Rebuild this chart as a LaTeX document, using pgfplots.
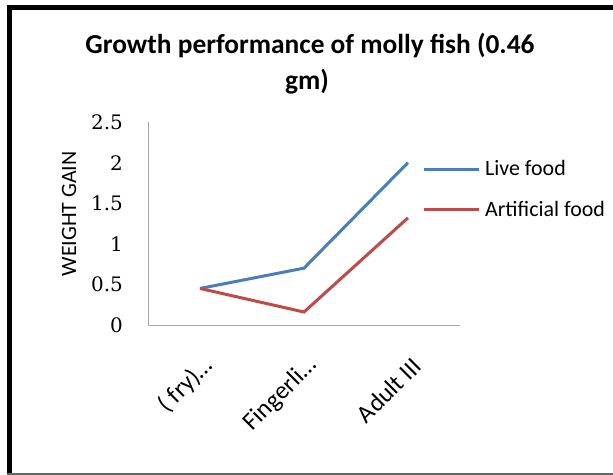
\documentclass[border=0pt]{standalone}
\usepackage{pgfplots}
\pgfplotsset{compat=1.18}
\usepackage{fontspec}
\setmainfont{Carlito}
\newfontfamily\tickfont{DejaVu Serif}
\definecolor{liveblue}{HTML}{4A7EBB}
\definecolor{artred}{HTML}{BE4B48}
\begin{document}
\begin{tikzpicture}
\path[use as bounding box] (0,0) rectangle (613bp,-475bp);
\fill[white] (0,0) rectangle (613bp,-475bp);
\draw[line width=5bp] (9.5bp,-475bp) -- (9.5bp,-7.5bp) -- (613bp,-7.5bp);
\draw[gray!80!black, line width=2bp] (7bp,-474bp) -- (613bp,-474bp);
\node[font=\bfseries\fontsize{27.5}{33}\selectfont, anchor=base] at (310bp,-53bp) {Growth performance of molly fish (0.46};
\node[font=\bfseries\fontsize{27.5}{33}\selectfont, anchor=base] at (307bp,-89bp) {gm)};
\begin{axis}[
  at={(148bp,-325bp)}, anchor=south west,
  scale only axis, width=312bp, height=203bp,
  xmin=-0.5, xmax=2.5, ymin=0, ymax=2.5,
  axis x line*=bottom, axis y line*=left,
  axis line style={draw=gray!70, line width=1bp, -},
  xtick={0,1,2}, xticklabels={( fry)…, Fingerli…, Adult III},
  ytick={0,0.5,1,1.5,2,2.5},
  major tick length=0pt,
  /pgf/number format/assume math mode=true,
  yticklabel style={font=\tickfont\fontsize{20}{20}\selectfont, inner sep=0pt, anchor=east, xshift=-25bp},
  xticklabel style={font=\fontsize{25}{25}\selectfont, xshift=9bp, yshift=-37bp, rotate=45, anchor=east, inner sep=0pt},
  ylabel={WEIGHT GAIN},
  ylabel style={font=\fontsize{22}{22}\selectfont, at={(axis description cs:-0.253,0.547)}, anchor=center},
  legend style={at={(axis description cs:0.878,0.81)}, anchor=north west, draw=none, fill=none, inner sep=0pt, font=\fontsize{22}{22}\selectfont, row sep=24bp, column sep=5bp, nodes={inner sep=0pt}},
  legend cell align=left,
  legend image code/.code={\draw[#1] (0bp,0bp) -- (55bp,0bp);},
  clip=false,
]
\addplot[liveblue, line width=3bp] coordinates {(0,0.45) (1,0.70) (2,2.0)};
\addlegendentry{Live food}
\addplot[artred, line width=3bp] coordinates {(0,0.45) (1,0.16) (2,1.32)};
\addlegendentry{Artificial food}
\end{axis}
\end{tikzpicture}
\end{document}
